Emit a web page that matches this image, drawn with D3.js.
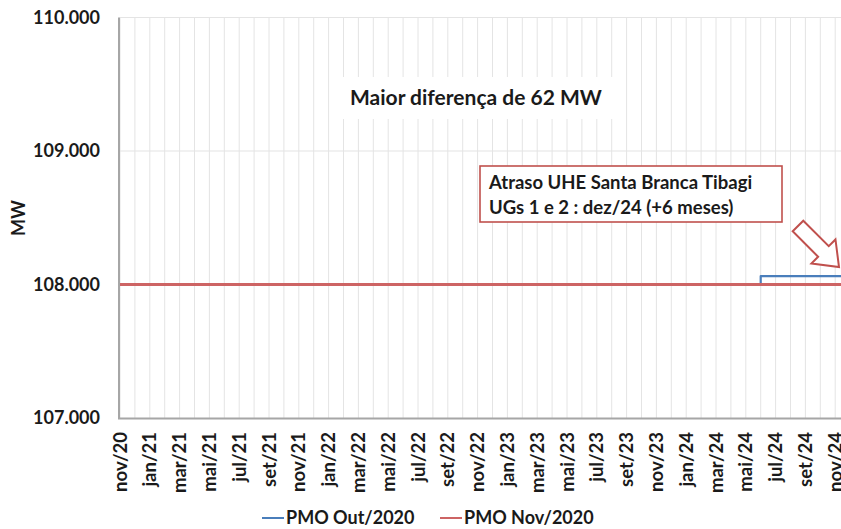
<!DOCTYPE html>
<html>
<head>
<meta charset="utf-8">
<script src="https://cdn.jsdelivr.net/npm/d3@7"></script>
<style>
  html, body { margin: 0; padding: 0; background: #fff; }
  svg { display: block; }
  text { font-family: Lato, "Open Sans", sans-serif; font-weight: bold; fill: #1a1a1a; }
</style>
</head>
<body>
<svg id="chart" width="841" height="529"></svg>
<script>
// ---- DATA ----
const months = [
  "nov/20","dez/20",
  "jan/21","fev/21","mar/21","abr/21","mai/21","jun/21","jul/21","ago/21","set/21","out/21","nov/21","dez/21",
  "jan/22","fev/22","mar/22","abr/22","mai/22","jun/22","jul/22","ago/22","set/22","out/22","nov/22","dez/22",
  "jan/23","fev/23","mar/23","abr/23","mai/23","jun/23","jul/23","ago/23","set/23","out/23","nov/23","dez/23",
  "jan/24","fev/24","mar/24","abr/24","mai/24","jun/24","jul/24","ago/24","set/24","out/24","nov/24","dez/24",
  "jan/25"
];
const tickLabels = ["nov/20","jan/21","mar/21","mai/21","jul/21","set/21","nov/21","jan/22","mar/22","mai/22","jul/22","set/22","nov/22","jan/23","mar/23","mai/23","jul/23","set/23","nov/23","jan/24","mar/24","mai/24","jul/24","set/24","nov/24"];
const pmoOut2020 = [
  108000,108000,
  108000,108000,108000,108000,108000,108000,108000,108000,108000,108000,108000,108000,
  108000,108000,108000,108000,108000,108000,108000,108000,108000,108000,108000,108000,
  108000,108000,108000,108000,108000,108000,108000,108000,108000,108000,108000,108000,
  108000,108000,108000,108000,108000,108062,108062,108062,108062,108062,108062,108062,
  108062
];
const pmoNov2020 = [
  108000,108000,
  108000,108000,108000,108000,108000,108000,108000,108000,108000,108000,108000,108000,
  108000,108000,108000,108000,108000,108000,108000,108000,108000,108000,108000,108000,
  108000,108000,108000,108000,108000,108000,108000,108000,108000,108000,108000,108000,
  108000,108000,108000,108000,108000,108000,108000,108000,108000,108000,108000,108062,
  108062
];
const yTicks = [107000, 108000, 109000, 110000];
const seriesNames = ["PMO Out/2020", "PMO Nov/2020"];
const annotationTitle = "Maior diferença de 62 MW";
const annotationBox = ["Atraso UHE Santa Branca Tibagi", "UGs 1 e 2 : dez/24 (+6 meses)"];

// ---- LAYOUT ----
const svg = d3.select("#chart");
const W = 841, H = 529;
const mLeft = 120, mTop = 17.5, mBottom = 418;
const step = 14.9;

const x = d3.scalePoint().domain(months).range([mLeft, mLeft + (months.length - 1) * step]);
const y = d3.scaleLinear().domain([107000, 110000]).range([mBottom, mTop]);

const fmtY = v => d3.format(",")(v).replace(/,/g, ".");

// gridlines vertical (each month)
svg.append("g").selectAll("line").data(months).join("line")
  .attr("x1", d => x(d)).attr("x2", d => x(d))
  .attr("y1", mTop).attr("y2", mBottom)
  .attr("stroke", "#e4e4e4").attr("stroke-width", 1);

// gridlines horizontal
svg.append("g").selectAll("line").data(yTicks.slice(1)).join("line")
  .attr("x1", mLeft).attr("x2", W)
  .attr("y1", d => y(d)).attr("y2", d => y(d))
  .attr("stroke", "#e4e4e4").attr("stroke-width", 1.2);

// white background behind title annotation
svg.append("rect").attr("x", 340).attr("y", 77).attr("width", 276).attr("height", 42).attr("fill", "#fff");

svg.append("text").attr("x", 350).attr("y", 105)
  .style("font-size", "21px").text(annotationTitle);

// axes lines
svg.append("line").attr("x1", mLeft - 1).attr("x2", mLeft - 1).attr("y1", mTop).attr("y2", mBottom + 1)
  .attr("stroke", "#a6a6a6").attr("stroke-width", 2);
svg.append("line").attr("x1", mLeft - 2).attr("x2", W).attr("y1", mBottom + 0.5).attr("y2", mBottom + 0.5)
  .attr("stroke", "#a6a6a6").attr("stroke-width", 2);

// y labels
svg.append("g").selectAll("text").data(yTicks).join("text")
  .attr("x", 100).attr("y", d => y(d)).attr("dy", "0.35em")
  .attr("text-anchor", "end").style("font-size", "18px")
  .text(d => fmtY(d));

// x labels
svg.append("g").selectAll("text").data(tickLabels).join("text")
  .attr("transform", d => `translate(${x(d) + 6.5},432) rotate(-90)`)
  .attr("text-anchor", "end").style("font-size", "18.5px")
  .text(d => d);

// y title
svg.append("text").attr("transform", "translate(25,218) rotate(-90)")
  .attr("text-anchor", "middle").style("font-size", "18px").text("MW");

// lines
const line = d3.line().x((d, i) => x(months[i])).y(d => y(d)).curve(d3.curveStepAfter);
svg.append("path").datum(pmoOut2020).attr("d", line)
  .attr("fill", "none").attr("stroke", "#4a7ebb").attr("stroke-width", 2.2).attr("stroke-linejoin", "round");
svg.append("path").datum(pmoNov2020).attr("d", line)
  .attr("fill", "none").attr("stroke", "#cd6464").attr("stroke-width", 3).attr("stroke-linejoin", "round");

// annotation box
svg.append("rect").attr("x", 480).attr("y", 166).attr("width", 302).attr("height", 56)
  .attr("fill", "#fff").attr("stroke", "#c0504d").attr("stroke-width", 1.6);
svg.append("g").selectAll("text").data(annotationBox).join("text")
  .attr("x", 489).attr("y", (d, i) => 189 + i * 25)
  .style("font-size", "18.5px").text(d => d);

// hollow block arrow
const L = 58, sw = 7.5, hw = 17, hl = 22;
const arrowPts = [[0, -sw], [L - hl, -sw], [L - hl, -hw], [L, 0], [L - hl, hw], [L - hl, sw], [0, sw]];
svg.append("path")
  .attr("d", d3.line()(arrowPts) + "Z")
  .attr("transform", `translate(${839 - L * Math.cos(Math.PI / 4)},${267 - L * Math.sin(Math.PI / 4)}) rotate(45)`)
  .attr("fill", "#fff").attr("stroke", "#c0504d").attr("stroke-width", 2).attr("stroke-linejoin", "miter");

// legend
const legend = svg.append("g");
const legendItems = [
  {name: seriesNames[0], color: "#4a7ebb", x: 262},
  {name: seriesNames[1], color: "#cd6464", x: 440}
];
legendItems.forEach(it => {
  legend.append("line").attr("x1", it.x).attr("x2", it.x + 22).attr("y1", 518).attr("y2", 518)
    .attr("stroke", it.color).attr("stroke-width", 2);
  legend.append("text").attr("x", it.x + 24).attr("y", 518).attr("dy", "0.35em")
    .style("font-size", "18px").text(it.name);
});
</script>
</body>
</html>
